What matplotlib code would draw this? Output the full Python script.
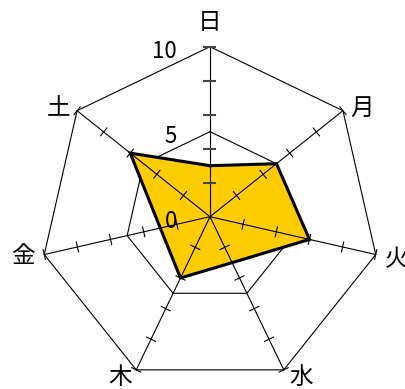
import numpy as np
import matplotlib
matplotlib.use('Agg')
import matplotlib.pyplot as plt

plt.rcParams['font.family'] = ['Noto Sans CJK JP', 'DejaVu Sans']

# Data
categories = ['日', '月', '火', '水', '木', '金', '土']
values = [3, 5, 6, 3, 4, 3, 6]
ring_levels = [5, 10]
tick_levels = [2, 4, 6, 8, 10]
scale_values = [0, 5, 10]
scale_labels = ['0', '5', '10']

# label offsets in pixels from the axis end (x right, y up)
label_offsets = [(0, 24), (19, 2.5), (21, -5.5), (17, -8), (-16, -8), (-21, -1.5), (-19, 2.5)]

W, H, DPI = 406, 389, 100
cx, cy = 210.0, 389 - 216.7   # centre of the chart in pixels (from bottom left)
ppu = 17.0                     # pixels per value unit

fig = plt.figure(figsize=(W / DPI, H / DPI), dpi=DPI)
ax = fig.add_axes([0, 0, 1, 1])
ax.set_xlim(-cx / ppu, (W - cx) / ppu)
ax.set_ylim(-cy / ppu, (H - cy) / ppu)
ax.axis('off')

n = len(categories)
ang = np.arange(n) * 2 * np.pi / n
ux, uy = np.sin(ang), np.cos(ang)

# Rings (under the fill)
for lv in ring_levels:
    ax.plot(np.append(ux, ux[0]) * lv, np.append(uy, uy[0]) * lv, color='black', lw=0.8, zorder=1)

# Data polygon
vals = np.array(values, dtype=float)
px, py = ux * vals, uy * vals
ax.fill(px, py, color='#FFCC00', zorder=2, lw=0)

# Spokes and ticks
for i in range(n):
    ax.plot([0, 10 * ux[i]], [0, 10 * uy[i]], color='black', lw=0.8, zorder=3)
    for lv in tick_levels:
        if i == 0:
            h, col, lw = 5.5 / ppu, '#444444', 1.5
        else:
            h, col, lw = 5.0 / ppu, 'black', 0.8
        bx, by = lv * ux[i], lv * uy[i]
        ax.plot([bx - h * uy[i], bx + h * uy[i]], [by + h * ux[i], by - h * ux[i]],
                color=col, lw=lw, zorder=3)

ax.plot(np.append(px, px[0]), np.append(py, py[0]), color='black', lw=2.2, zorder=4,
        solid_joinstyle='miter')

# Scale labels
for v, s in zip(scale_values, scale_labels):
    ax.annotate(s, xy=(0, v), xytext=(-33, -5), textcoords='offset pixels',
                ha='right', va='center', fontsize=16, zorder=5)

# Category labels
for i, c in enumerate(categories):
    ax.annotate(c, xy=(10 * ux[i], 10 * uy[i]), xytext=label_offsets[i], textcoords='offset pixels',
                ha='center', va='center', fontsize=17, zorder=5)

fig.savefig('out.png', dpi=DPI)
